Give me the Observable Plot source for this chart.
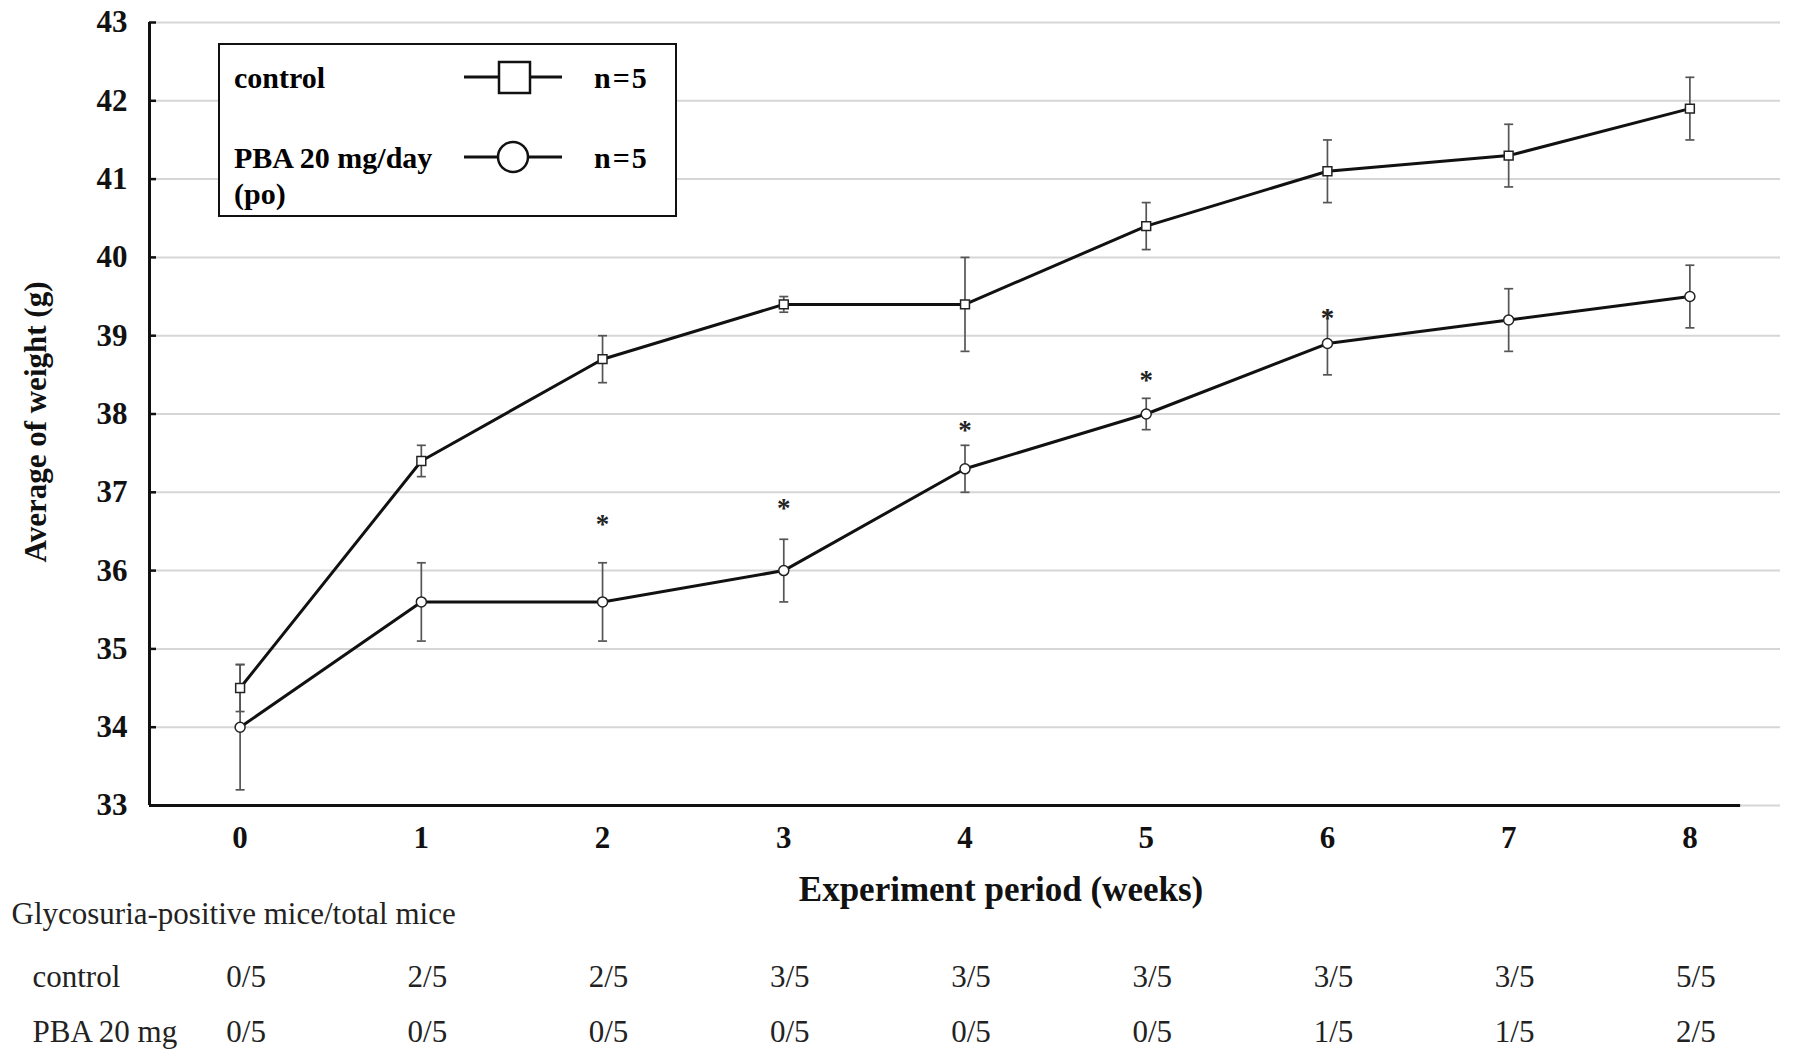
<!DOCTYPE html>
<html><head><meta charset="utf-8">
<script src="https://cdn.jsdelivr.net/npm/d3@7"></script>
<script src="https://cdn.jsdelivr.net/npm/@observablehq/plot@0.6"></script>
<style>
body{margin:0;background:#fff;}
#wrap{position:relative;width:1795px;height:1059px;overflow:hidden;}
#legend{position:absolute;left:218px;top:43px;width:459px;height:174px;border:2.5px solid #111;box-sizing:border-box;background:#fff;}
#legend svg{position:absolute;left:0;top:0;}
#chart svg [aria-label="y-axis tick label"], #chart svg [aria-label="x-axis tick label"]{font-weight:bold;}
</style></head><body><div id="wrap"><div id="chart"></div><div id="legend"></div></div>
<script>
// ---- data ----
const weeks = [0, 1, 2, 3, 4, 5, 6, 7, 8];
const controlMean = [34.5, 37.4, 38.7, 39.4, 39.4, 40.4, 41.1, 41.3, 41.9];
const controlErr  = [0.3, 0.2, 0.3, 0.1, 0.6, 0.3, 0.4, 0.4, 0.4];
const pbaMean = [34.0, 35.6, 35.6, 36.0, 37.3, 38.0, 38.9, 39.2, 39.5];
const pbaErr  = [0.8, 0.5, 0.5, 0.4, 0.3, 0.2, 0.4, 0.4, 0.4];
const sigWeeks = [2, 3, 4, 5, 6];
const sigLevel = [36.62, 36.82, 37.82, 38.45, 39.25];
const yTicks = [33, 34, 35, 36, 37, 38, 39, 40, 41, 42, 43];
const glycoTitle = "Glycosuria-positive mice/total mice";
const glycoRowNames = ["control", "PBA 20 mg"];
const glycoControl = ["0/5", "2/5", "2/5", "3/5", "3/5", "3/5", "3/5", "3/5", "5/5"];
const glycoPBA     = ["0/5", "0/5", "0/5", "0/5", "0/5", "0/5", "1/5", "1/5", "2/5"];
const seriesNames = ["control", "PBA 20 mg/day", "(po)"];
const nLabels = ["n=5", "n=5"];
const xLabel = "Experiment period (weeks)";
const yLabel = "Average of weight (g)";

// ---- build tables ----
const control = weeks.map((w, i) => ({week: w, mean: controlMean[i], err: controlErr[i]}));
const pba = weeks.map((w, i) => ({week: w, mean: pbaMean[i], err: pbaErr[i]}));
const all = [...control.map(d => ({...d, s: "control"})), ...pba.map(d => ({...d, s: "pba"}))];
const stars = sigWeeks.map((w, i) => ({week: w, level: sigLevel[i]}));
const glyco = weeks.map((w, i) => ({week: w, c: glycoControl[i], p: glycoPBA[i]}));

const xDomain = [-0.5, 8.5];
const xAxisEnd = 8.28;
const serif = "Liberation Serif, Times New Roman, serif";
const hbar = {draw(ctx, size) { const r = Math.sqrt(size / Math.PI); ctx.moveTo(-r, 0); ctx.lineTo(r, 0); }};

const plot = Plot.plot({
  width: 1795, height: 1059,
  marginLeft: 149, marginRight: 15, marginTop: 22, marginBottom: 254,
  style: {fontFamily: serif, background: "#fff", color: "#111"},
  x: {domain: xDomain},
  y: {domain: [33, 43]},
  marks: [
    Plot.gridY(yTicks, {stroke: "#d6d6d6", strokeOpacity: 1, strokeWidth: 2}),
    Plot.ruleX([xDomain[0]], {stroke: "#111", strokeWidth: 3}),
    Plot.ruleY([33], {x1: xDomain[0], x2: xAxisEnd, stroke: "#111", strokeWidth: 3}),
    Plot.axisY({ticks: yTicks, tickSize: -7, tickPadding: 29, strokeWidth: 2.5, fontSize: 31, fontWeight: "bold", label: null}),
    Plot.axisX({ticks: weeks, tickSize: 0, tickPadding: 20, fontSize: 31, fontWeight: "bold", label: null}),
    Plot.text([yLabel], {frameAnchor: "left", textAnchor: "middle", lineAnchor: "middle", rotate: -90, dx: -113, dy: 8, fontSize: 31, fontWeight: "bold", fill: "#111"}),
    Plot.text([xLabel], {frameAnchor: "bottom", lineAnchor: "middle", dx: 36, dy: 84, fontSize: 35, fontWeight: "bold", fill: "#111"}),
    // error bars
    Plot.ruleX(all, {x: "week", y1: d => d.mean - d.err, y2: d => d.mean + d.err, stroke: "#555", strokeWidth: 1.7}),
    Plot.dot(all, {x: "week", y: d => d.mean - d.err, symbol: hbar, r: 4.5, stroke: "#555", strokeWidth: 1.7}),
    Plot.dot(all, {x: "week", y: d => d.mean + d.err, symbol: hbar, r: 4.5, stroke: "#555", strokeWidth: 1.7}),
    // lines
    Plot.line(control, {x: "week", y: "mean", stroke: "#111", strokeWidth: 3}),
    Plot.line(pba, {x: "week", y: "mean", stroke: "#111", strokeWidth: 3}),
    Plot.dot(control, {x: "week", y: "mean", symbol: "square", r: 5, fill: "#fff", stroke: "#222", strokeWidth: 1.5}),
    Plot.dot(pba, {x: "week", y: "mean", symbol: "circle", r: 5, fill: "#fff", stroke: "#222", strokeWidth: 1.5}),
    // asterisks
    Plot.text(stars, {x: "week", y: "level", text: () => "*", fontSize: 27, fontWeight: "bold", dy: 2, fill: "#222"}),
    // glycosuria table
    Plot.text([glycoTitle], {frameAnchor: "bottom-left", textAnchor: "start", lineAnchor: "middle", dx: -138, dy: 109, fontSize: 31, fill: "#222"}),
    Plot.text([glycoRowNames[0]], {frameAnchor: "bottom-left", textAnchor: "start", lineAnchor: "middle", dx: -117, dy: 172, fontSize: 31, fill: "#222"}),
    Plot.text([glycoRowNames[1]], {frameAnchor: "bottom-left", textAnchor: "start", lineAnchor: "middle", dx: -117, dy: 227, fontSize: 31, fill: "#222"}),
    Plot.text(glyco, {x: "week", y: () => 33, text: "c", dx: 6, dy: 172, fontSize: 31, fill: "#222"}),
    Plot.text(glyco, {x: "week", y: () => 33, text: "p", dx: 6, dy: 227, fontSize: 31, fill: "#222"})
  ]
});
document.getElementById("chart").appendChild(plot);

// ---- legend (boxed, inside the plot area) ----
const lg = d3.select("#legend").append("svg").attr("width", 455).attr("height", 170)
  .style("font-family", serif).style("font-weight", "bold").style("font-size", "30px");
const rowsY = [32, 112];
lg.append("text").attr("x", 14).attr("y", rowsY[0]).attr("dy", "0.35em").text(seriesNames[0]);
lg.append("text").attr("x", 14).attr("y", rowsY[1]).attr("dy", "0.35em").text(seriesNames[1]);
lg.append("text").attr("x", 14).attr("y", 148).attr("dy", "0.35em").text(seriesNames[2]);
rowsY.forEach((y, i) => {
  lg.append("line").attr("x1", 244).attr("x2", 342).attr("y1", y).attr("y2", y).attr("stroke", "#111").attr("stroke-width", 3);
  lg.append("text").attr("x", 374).attr("y", y).attr("dy", "0.35em").attr("letter-spacing", "2px").text(nLabels[i]);
});
lg.append("rect").attr("x", 279).attr("y", rowsY[0] - 15).attr("width", 31).attr("height", 31).attr("fill", "#fff").attr("stroke", "#111").attr("stroke-width", 2.5);
lg.append("circle").attr("cx", 293).attr("cy", rowsY[1]).attr("r", 15).attr("fill", "#fff").attr("stroke", "#111").attr("stroke-width", 2.5);
</script>
</body></html>
